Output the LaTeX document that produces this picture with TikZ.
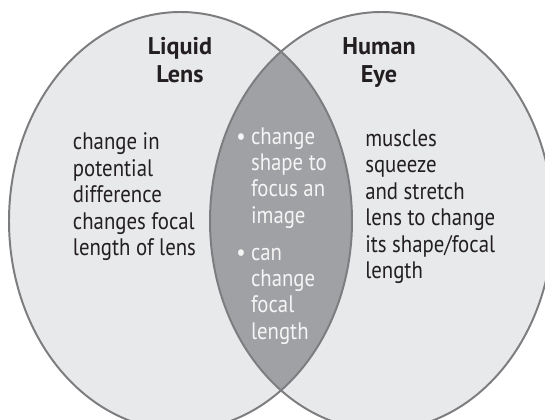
\documentclass[tikz,border=0pt]{standalone}
\usepackage{fontspec}
\setmainfont{PT Sans}
\newfontfamily\testofont[FakeStretch=0.87]{PT Sans}
\definecolor{sfondo}{RGB}{232,233,235}
\definecolor{lente}{RGB}{160,161,165}
\definecolor{bordo}{RGB}{125,125,128}
\definecolor{inchiostro}{RGB}{35,31,32}
\begin{document}
\begin{tikzpicture}[
    contorno/.style={draw=bordo, line width=1.4pt},
    titolo/.style={align=center, anchor=base, text=inchiostro, font=\bfseries\fontsize{17.2}{20.6}\selectfont, inner sep=0pt},
    testo/.style={align=left, anchor=base west, text=inchiostro, font=\testofont\fontsize{17}{18.85}\selectfont, inner sep=0pt},
    comune/.style={anchor=base west, text=white!96!black, font=\testofont\fontsize{17}{18.7}\selectfont, inner sep=0pt}
]

    % 1. Area della figura
    \useasboundingbox (0,0) rectangle (13.625,10.475);
    \clip (0,0) rectangle (13.625,10.475);

    % 2. I due insiemi
    \fill[sfondo] (4.5125,4.95) ellipse [x radius=4.2875, y radius=5.225];
    \fill[sfondo] (9.5375,4.95) ellipse [x radius=4.2875, y radius=5.225];

    % Intersezione
    \begin{scope}
        \clip (4.5125,4.95) ellipse [x radius=4.2875, y radius=5.225];
        \fill[lente] (9.5375,4.95) ellipse [x radius=4.2875, y radius=5.225];
    \end{scope}

    % Contorni
    \draw[contorno] (4.5125,4.95) ellipse [x radius=4.2875, y radius=5.225];
    \draw[contorno] (9.5375,4.95) ellipse [x radius=4.2875, y radius=5.225];

    % 3. Titoli (base = ultima riga)
    \node[titolo] (liquido) at (4.5,8.4) {Liquid\\Lens};
    \node[titolo] (occhio) at (9.475,8.4) {Human\\Eye};

    % 4. Testi (base = ultima riga)
    \node[testo] (testoLente) at (1.8175,4.075) {change in\\potential\\difference\\changes focal\\length of lens};
    \node[testo] (testoOcchio) at (9.125,3.5) {muscles\\squeeze\\and stretch\\lens to change\\its shape/focal\\length};

    % Elenco comune
    \node[comune] (comuni) at (5.9,6.87) {%
        \begin{tabular}[t]{@{}l@{}l@{}}
            \makebox[10.5pt][l]{\textbullet} & change\\
            & shape to\\
            & focus an\\
            & image\\[7.8pt]
            \makebox[10.5pt][l]{\textbullet} & can\\
            & change\\
            & focal\\
            & length
        \end{tabular}};

\end{tikzpicture}
\end{document}
